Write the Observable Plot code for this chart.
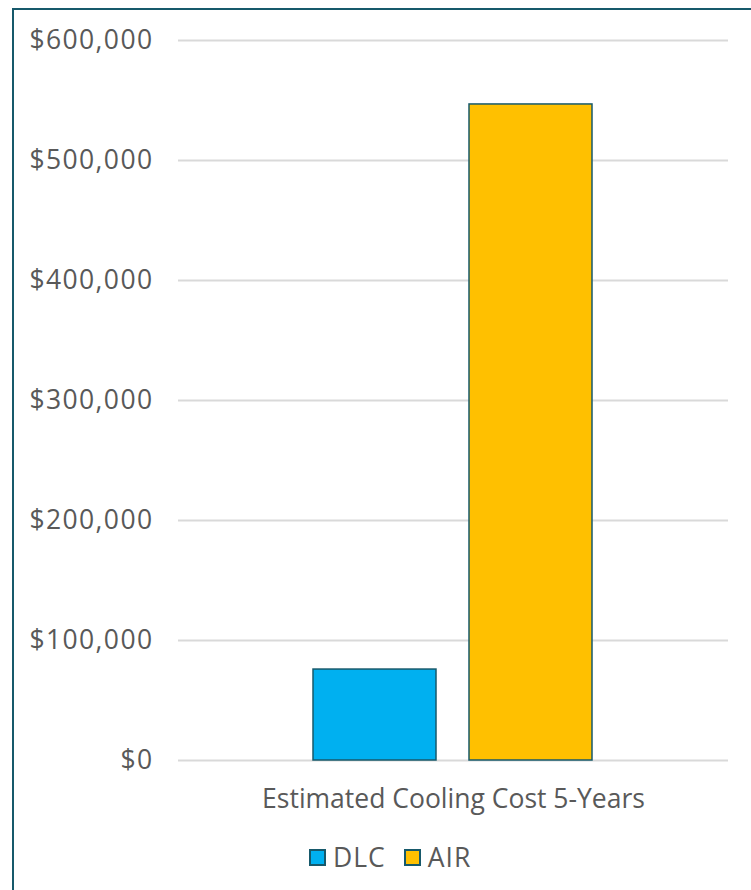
<!DOCTYPE html>
<html>
<head>
<meta charset="utf-8">
<script src="https://cdn.jsdelivr.net/npm/d3@7"></script>
<script src="https://cdn.jsdelivr.net/npm/@observablehq/plot@0.6"></script>
<style>
  html, body { margin: 0; padding: 0; background: #fff; }
  body { width: 751px; height: 890px; position: relative; overflow: hidden; font-family: "Open Sans", sans-serif; }
  #frame { position: absolute; left: 12px; top: 8px; width: 800px; height: 900px; border-left: 2px solid #17596b; border-top: 2px solid #17596b; box-sizing: border-box; }
  #chart { position: absolute; left: 0; top: 0; }
  #chart g[aria-label="y-axis tick label"] text { letter-spacing: 1.4px; }
  #legend { position: absolute; left: 309px; top: 839px; display: flex; align-items: center; gap: 18px; font-size: 26.5px; letter-spacing: 1px; color: #595959; line-height: 36px; }
  .item { display: flex; align-items: center; gap: 7px; }
  .sw { width: 17px; height: 17px; border: 2px solid #17596b; box-sizing: border-box; }
</style>
</head>
<body>
<div id="frame"></div>
<div id="chart"></div>
<div id="legend"></div>
<script>
const categories = ["Estimated Cooling Cost 5-Years"];
const series = ["DLC", "AIR"];
const values = [75800, 546700];
const colors = ["#00B0F0", "#FFC000"];
const yTicks = [0, 100000, 200000, 300000, 400000, 500000, 600000];

const data = series.map((s, i) => ({category: categories[0], series: s, value: values[i]}));
const fmt = d3.format("$,");

const plot = Plot.plot({
  width: 751,
  height: 830,
  marginTop: 40,
  marginBottom: 70,
  marginLeft: 178,
  marginRight: 23,
  style: {fontFamily: "Open Sans, sans-serif", fontSize: "26.5px", color: "#595959", background: "transparent"},
  fx: {domain: categories, padding: 0, label: null, axis: "bottom", tickSize: 0, tickPadding: 29},
  x: {domain: series, paddingInner: 0.21, paddingOuter: 0.857, axis: null},
  y: {domain: [0, 600000], ticks: yTicks, tickFormat: fmt, label: null, tickSize: 0, tickPadding: 25},
  color: {domain: series, range: colors},
  marks: [
    Plot.ruleY(yTicks, {stroke: "#d9d9d9", strokeWidth: 2}),
    Plot.barY(data, {fx: "category", x: "series", y: "value", fill: "series", stroke: "#17596b", strokeWidth: 1.5})
  ]
});
document.getElementById("chart").appendChild(plot);

const legend = document.getElementById("legend");
series.forEach((s, i) => {
  const item = document.createElement("div");
  item.className = "item";
  const sw = document.createElement("div");
  sw.className = "sw";
  sw.style.background = colors[i];
  const t = document.createElement("span");
  t.textContent = s;
  item.appendChild(sw);
  item.appendChild(t);
  legend.appendChild(item);
});
</script>
</body>
</html>
